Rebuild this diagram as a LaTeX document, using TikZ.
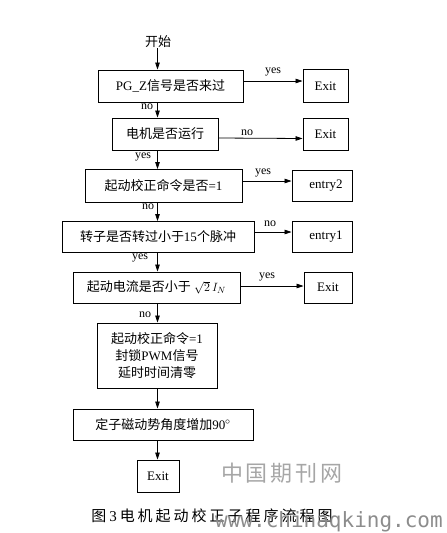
\documentclass[tikz,border=0pt]{standalone}
\usepackage{fontspec}
\setmainfont{Liberation Serif}
\newfontfamily\cjk{Noto Sans CJK SC}
\newfontfamily\wmono{DejaVu Sans Mono}
\usetikzlibrary{arrows.meta,calc}
\begin{document}
\begin{tikzpicture}[x=1pt,y=-1pt,
  box/.style={draw,line width=0.9pt,rectangle,inner sep=0pt,font=\fontsize{13}{15}\selectfont,align=center},
  lbl/.style={font=\fontsize{12}{12}\selectfont,inner sep=0pt},
  arr/.style={-{Triangle[length=7pt,width=4.5pt]},line width=0.8pt},
  wm/.style={text=black!35,inner sep=0pt}]
\useasboundingbox (0,0) rectangle (447,533);
\coordinate (spine) at (157.5,0);
\node[inner sep=0pt,font=\fontsize{13}{15}\selectfont] (start) at (158,42) {\cjk 开始};
\node[box,minimum width=145pt,minimum height=32pt] (b1) at (170.5,86) {PG\_Z{\cjk 信号是否来过}};
\node[box,minimum width=45pt,minimum height=33pt] (e1) at (325.5,86) {Exit};
\node[box,minimum width=106pt,minimum height=32pt] (b2) at (165,134) {\cjk 电机是否运行};
\node[box,minimum width=45pt,minimum height=32pt] (e2) at (325.5,134.5) {Exit};
\node[box,minimum width=157pt,minimum height=33pt] (b3) at (163.5,186) {{\cjk 起动校正命令是否}=1};
\node[box,minimum width=60pt,minimum height=31pt] (en2) at (322,186) {\hspace*{8pt}entry2};
\node[box,minimum width=192pt,minimum height=31pt] (b4) at (158,237) {{\cjk 转子是否转过小于}15{\cjk 个脉冲}};
\node[box,minimum width=60pt,minimum height=31pt] (en1) at (322,237) {\hspace*{8pt}entry1};
\node[box,minimum width=167pt,minimum height=31pt] (b5) at (156.5,287.5) {{\cjk 起动电流是否小于} $\sqrt{2}\,I_N$};
\node[box,minimum width=48pt,minimum height=31pt] (e5) at (328,287.5) {Exit};
\node[box,minimum width=120pt,minimum height=65pt,font=\fontsize{13}{17}\selectfont] (b6) at (157,355.5) {{\cjk 起动校正命令}=1\\{\cjk 封锁}PWM{\cjk 信号}\\{\cjk 延时时间清零}};
\node[box,minimum width=180pt,minimum height=31pt] (b7) at (163,424.5) {{\cjk 定子磁动势角度增加}90{\Large$^{\circ}$}};
\node[box,minimum width=42pt,minimum height=32pt] (e7) at (158,476) {Exit};
% vertical spine
\draw[arr] (start.south -| spine) -- (b1.north -| spine);
\draw[arr] (b1.south -| spine) -- (b2.north -| spine);
\draw[arr] (b2.south -| spine) -- (b3.north -| spine);
\draw[arr] (b3.south -| spine) -- (b4.north -| spine);
\draw[arr] (b4.south -| spine) -- (b5.north -| spine);
\draw[arr] (b5.south -| spine) -- (b6.north -| spine);
\draw[arr] (b6.south -| spine) -- (b7.north -| spine);
\draw[arr] (b7.south -| spine) -- (e7.north -| spine);
% horizontal
\draw[arr] ([yshift=5pt]b1.east) -- ([yshift=5pt]e1.west);
\draw[arr] ([yshift=-4pt]b2.east) -- ([yshift=-4pt]e2.west);
\draw[arr] ([yshift=5pt]b3.east) -- ([yshift=5pt]en2.west);
\draw[arr] ([yshift=5pt]b4.east) -- ([yshift=5pt]en1.west);
\draw[arr] ([yshift=1.5pt]b5.east) -- ([yshift=1.5pt]e5.west);
% labels
\node[lbl] (l1) at (273,72) {yes};
\node[lbl] (l2) at (147,107) {no};
\node[lbl] (l3) at (247,133) {no};
\node[lbl] (l4) at (143,157) {yes};
\node[lbl] (l5) at (263,173) {yes};
\node[lbl] (l6) at (148,207) {no};
\node[lbl] (l7) at (270,224) {no};
\node[lbl] (l8) at (140,258) {yes};
\node[lbl] (l9) at (267,277) {yes};
\node[lbl] (l10) at (145,315) {no};
% watermark and caption
\node[wm,font=\cjk\fontsize{22}{24}\selectfont] (wm1) at (282,473) {中\hspace{3pt}国\hspace{3pt}期\hspace{3pt}刊\hspace{3pt}网};
\node[inner sep=0pt,font=\fontsize{15}{17}\selectfont] (cap) at (212,516) {{\cjk 图}\hspace{3pt}3\hspace{3pt}{\cjk 电\hspace{3pt}机\hspace{3pt}起\hspace{3pt}动\hspace{3pt}校\hspace{3pt}正\hspace{3pt}子\hspace{3pt}程\hspace{3pt}序\hspace{3pt}流\hspace{3pt}程\hspace{3pt}图}};
\node[wm,text=black!45,font=\wmono\fontsize{21}{22}\selectfont,anchor=west] (wm2) at (215,522) {www.chinaqking.com};
\end{tikzpicture}
\end{document}
